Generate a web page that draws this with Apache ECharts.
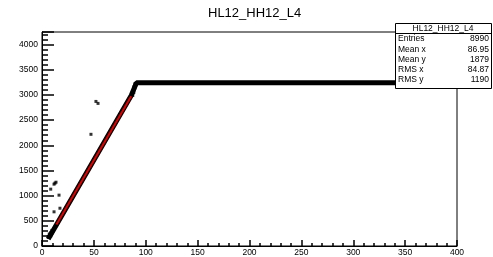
<!DOCTYPE html>
<html>
<head>
<meta charset="utf-8">
<script src="https://cdn.jsdelivr.net/npm/echarts@6/dist/echarts.min.js"></script>
<style>
  html, body { margin: 0; padding: 0; background: #fff; }
  #chart { width: 493px; height: 257px; }
</style>
</head>
<body>
<div id="chart"></div>
<script>
// main band (diagonal ramp then saturated plateau)
var bandX = [6, 86, 91, 400];
var bandY = [140, 2990, 3240, 3240];
// red points along the ramp
var redX = [14, 86];
var redY = [425, 2975];
// extra spread of the band near its ends
var blobX = [6.5, 7.5, 8, 9, 10, 87, 88, 89, 90];
var blobY = [180, 230, 210, 260, 300, 3000, 3060, 3150, 3210];
// isolated points off the band
var outX = [8.4, 11.6, 12.5, 13.5, 16.4, 11.6, 17.3, 47.2, 52, 54];
var outY = [1129, 1228, 1248, 1267, 1010, 679, 750, 2218, 2871, 2832];
// stats box
var statNames = ['Entries', 'Mean x', 'Mean y', 'RMS x', 'RMS y'];
var statValues = ['8990', '86.95', '1879', '84.87', '1190'];

function pairs(xs, ys) {
    var out = [];
    for (var i = 0; i < xs.length; i++) out.push([xs[i], ys[i]]);
    return out;
}

var font = 'Liberation Sans, Arial, sans-serif';
var chart = echarts.init(document.getElementById('chart'));

var graphics = [
    { type: 'text', left: 208, top: 7, z: 100,
      style: { text: 'HL12_HH12_L4', font: '13px ' + font, fill: '#000' } },
    { type: 'rect', z: 100, shape: { x: 395.5, y: 23.5, width: 96, height: 65 },
      style: { fill: '#fff', stroke: '#000', lineWidth: 1 } },
    { type: 'line', z: 101, shape: { x1: 395.5, y1: 33.5, x2: 491.5, y2: 33.5 },
      style: { stroke: '#000', lineWidth: 1 } },
    { type: 'text', z: 101, x: 443, y: 28.5,
      style: { text: 'HL12_HH12_L4', font: '8.5px ' + font, fill: '#000',
               align: 'center', verticalAlign: 'middle' } }
];
for (var i = 0; i < statNames.length; i++) {
    var yy = 39 + i * 10.2;
    graphics.push({ type: 'text', z: 101, x: 398, y: yy,
        style: { text: statNames[i], font: '8.5px ' + font, fill: '#000', align: 'left', verticalAlign: 'middle' } });
    graphics.push({ type: 'text', z: 101, x: 489, y: yy,
        style: { text: statValues[i], font: '8.5px ' + font, fill: '#000', align: 'right', verticalAlign: 'middle' } });
}

chart.setOption({
    animation: false,
    grid: { left: 42, right: 36, top: 32, bottom: 11, show: true, borderColor: '#000', borderWidth: 1 },
    xAxis: {
        type: 'value', min: 0, max: 400, interval: 50,
        axisLine: { show: true, lineStyle: { color: '#000' } },
        axisTick: { show: true, inside: true, length: 6, lineStyle: { color: '#000', width: 1.5 } },
        minorTick: { show: true, splitNumber: 5, length: 3, lineStyle: { color: '#000', width: 1.5 } },
        splitLine: { show: false },
        axisLabel: { color: '#000', fontSize: 8.5, margin: 2,
                     formatter: function (v) { return String(v); } }
    },
    yAxis: {
        type: 'value', min: 0, max: 4250, interval: 500,
        axisLine: { show: true, lineStyle: { color: '#000' } },
        axisTick: { show: true, inside: true, length: 12, lineStyle: { color: '#000', width: 1.5 } },
        minorTick: { show: true, splitNumber: 5, length: 6, lineStyle: { color: '#000', width: 1.5 } },
        splitLine: { show: false },
        axisLabel: { color: '#000', fontSize: 8.5, margin: 4, showMaxLabel: false,
                     formatter: function (v) { return String(v); } }
    },
    series: [
        { type: 'line', data: pairs(bandX, bandY), showSymbol: false, silent: true,
          lineStyle: { color: '#000', width: 5 }, z: 2 },
        { type: 'scatter', data: pairs(blobX, blobY), symbol: 'rect', symbolSize: 4, silent: true,
          itemStyle: { color: '#000' }, z: 2 },
        { type: 'line', data: pairs(redX, redY), showSymbol: false, silent: true,
          lineStyle: { color: '#e00000', width: 2 }, z: 3 },
        { type: 'scatter', data: pairs(outX, outY), symbol: 'rect', symbolSize: 3, silent: true,
          itemStyle: { color: '#000' }, z: 3 }
    ],
    graphic: graphics
});
</script>
</body>
</html>
